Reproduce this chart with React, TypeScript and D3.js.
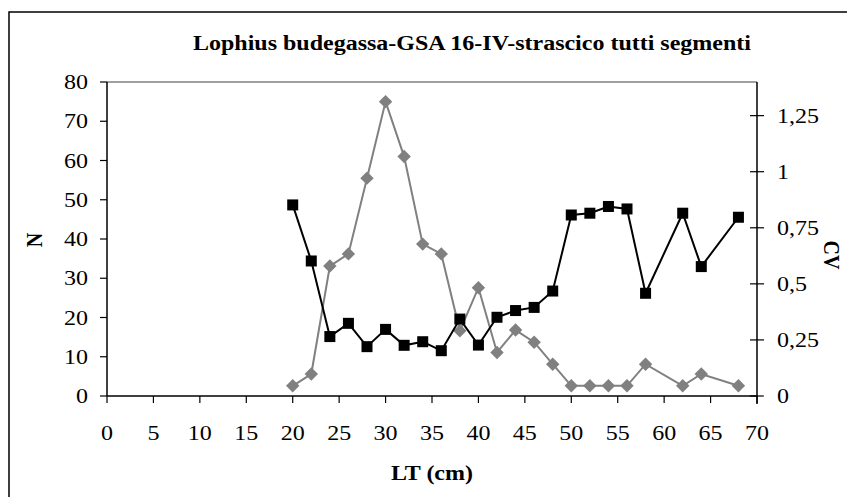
import * as d3 from "d3";

const lengths = [20, 22, 24, 26, 28, 30, 32, 34, 36, 38, 40, 42, 44, 46, 48, 50, 52, 54, 56, 58, 62, 64, 68];
const nValues = [2.6, 5.6, 33.1, 36.2, 55.5, 75, 61, 38.7, 36.2, 16.6, 27.6, 11.1, 16.8, 13.7, 8.1, 2.6, 2.6, 2.6, 2.6, 8.1, 2.6, 5.6, 2.6];
const cvValues = [0.852, 0.602, 0.265, 0.324, 0.22, 0.297, 0.226, 0.242, 0.202, 0.343, 0.227, 0.351, 0.381, 0.395, 0.468, 0.807, 0.815, 0.845, 0.834, 0.458, 0.815, 0.577, 0.797];
const xTicks = [0, 5, 10, 15, 20, 25, 30, 35, 40, 45, 50, 55, 60, 65, 70];
const nTicks = [0, 10, 20, 30, 40, 50, 60, 70, 80];
const cvTicks = [0, 0.25, 0.5, 0.75, 1, 1.25];

const title = "Lophius budegassa-GSA 16-IV-strascico tutti segmenti";
const W = 847;
const H = 497;
const font = "'Liberation Serif', 'Times New Roman', serif";
// the picture's type is wider than it is tall
const sx = 1.2;

const fmtCv = (v: number) => String(v).replace(".", ",");

export default function App() {
  const left = 107, right = 757, top = 82, bottom = 396;
  const x = d3.scaleLinear().domain([0, 70]).range([left, right]);
  const yN = d3.scaleLinear().domain([0, 80]).range([bottom, top]);
  const yCv = d3.scaleLinear().domain([0, 1.4]).range([bottom, top]);

  const nPts = lengths.map((l, i) => ({ x: l, y: nValues[i] }));
  const cvPts = lengths.map((l, i) => ({ x: l, y: cvValues[i] }));

  const nLine = d3.line<{ x: number; y: number }>().x((d) => x(d.x)).y((d) => yN(d.y))(nPts);
  const cvLine = d3.line<{ x: number; y: number }>().x((d) => x(d.x)).y((d) => yCv(d.y))(cvPts);

  const diamond = d3.symbol(d3.symbolSquare, 90)();

  const at = (px: number, py: number, rot = 0) => `translate(${px},${py}) scale(${sx},1) rotate(${rot})`;

  return (
    <svg width={W} height={H} style={{ position: "absolute", left: 0, top: 0, background: "#fff" }} fontFamily={font}>
      {/* outer frame */}
      <path d={`M9,${H + 2} V12 H${W + 2}`} stroke="#000" strokeWidth={1.5} fill="none" />

      <text transform={at(472, 50)} textAnchor="middle" fontWeight="bold" fontSize={20}>{title}</text>

      {/* plot border top */}
      <line x1={left} x2={right} y1={top} y2={top} stroke="#808080" strokeWidth={1.5} />

      {/* left axis */}
      <line x1={left} x2={left} y1={top} y2={bottom} stroke="#000" strokeWidth={1.5} />
      {nTicks.map((t) => (
        <g key={t}>
          <line x1={left - 7} x2={left} y1={yN(t)} y2={yN(t)} stroke="#000" strokeWidth={1.2} />
          <text transform={at(88, yN(t))} dy="0.35em" textAnchor="end" fontSize={20}>{t}</text>
        </g>
      ))}

      {/* right axis */}
      <line x1={right} x2={right} y1={top} y2={bottom + 8} stroke="#000" strokeWidth={1.5} />
      {cvTicks.map((t) => (
        <g key={t}>
          <line x1={right - 7} x2={right + 7} y1={yCv(t)} y2={yCv(t)} stroke="#000" strokeWidth={1.2} />
          <text transform={at(777, yCv(t))} dy="0.35em" textAnchor="start" fontSize={20}>{fmtCv(t)}</text>
        </g>
      ))}

      {/* x axis */}
      <line x1={left} x2={right} y1={bottom} y2={bottom} stroke="#000" strokeWidth={1.5} />
      {xTicks.map((t) => (
        <g key={t}>
          <line x1={x(t)} x2={x(t)} y1={bottom} y2={bottom + 7} stroke="#000" strokeWidth={1.2} />
          <text transform={at(x(t), 440)} textAnchor="middle" fontSize={20}>{t}</text>
        </g>
      ))}

      {/* series N */}
      <path d={nLine!} stroke="#808080" strokeWidth={2} fill="none" />
      {nPts.map((p, i) => (
        <path key={i} d={diamond!} transform={`translate(${x(p.x)},${yN(p.y)}) rotate(45)`} fill="#808080" />
      ))}

      {/* series CV */}
      <path d={cvLine!} stroke="#000" strokeWidth={2} fill="none" />
      {cvPts.map((p, i) => (
        <rect key={i} x={x(p.x) - 5.5} y={yCv(p.y) - 5.5} width={11} height={11} fill="#000" />
      ))}

      {/* axis titles */}
      <text transform={at(42, 240, -90)} textAnchor="middle" fontWeight="bold" fontSize={20}>N</text>
      <text transform={at(824, 255, 90)} textAnchor="middle" fontWeight="bold" fontSize={20}>CV</text>
      <text transform={at(432, 480)} textAnchor="middle" fontWeight="bold" fontSize={20}>LT (cm)</text>
    </svg>
  );
}
